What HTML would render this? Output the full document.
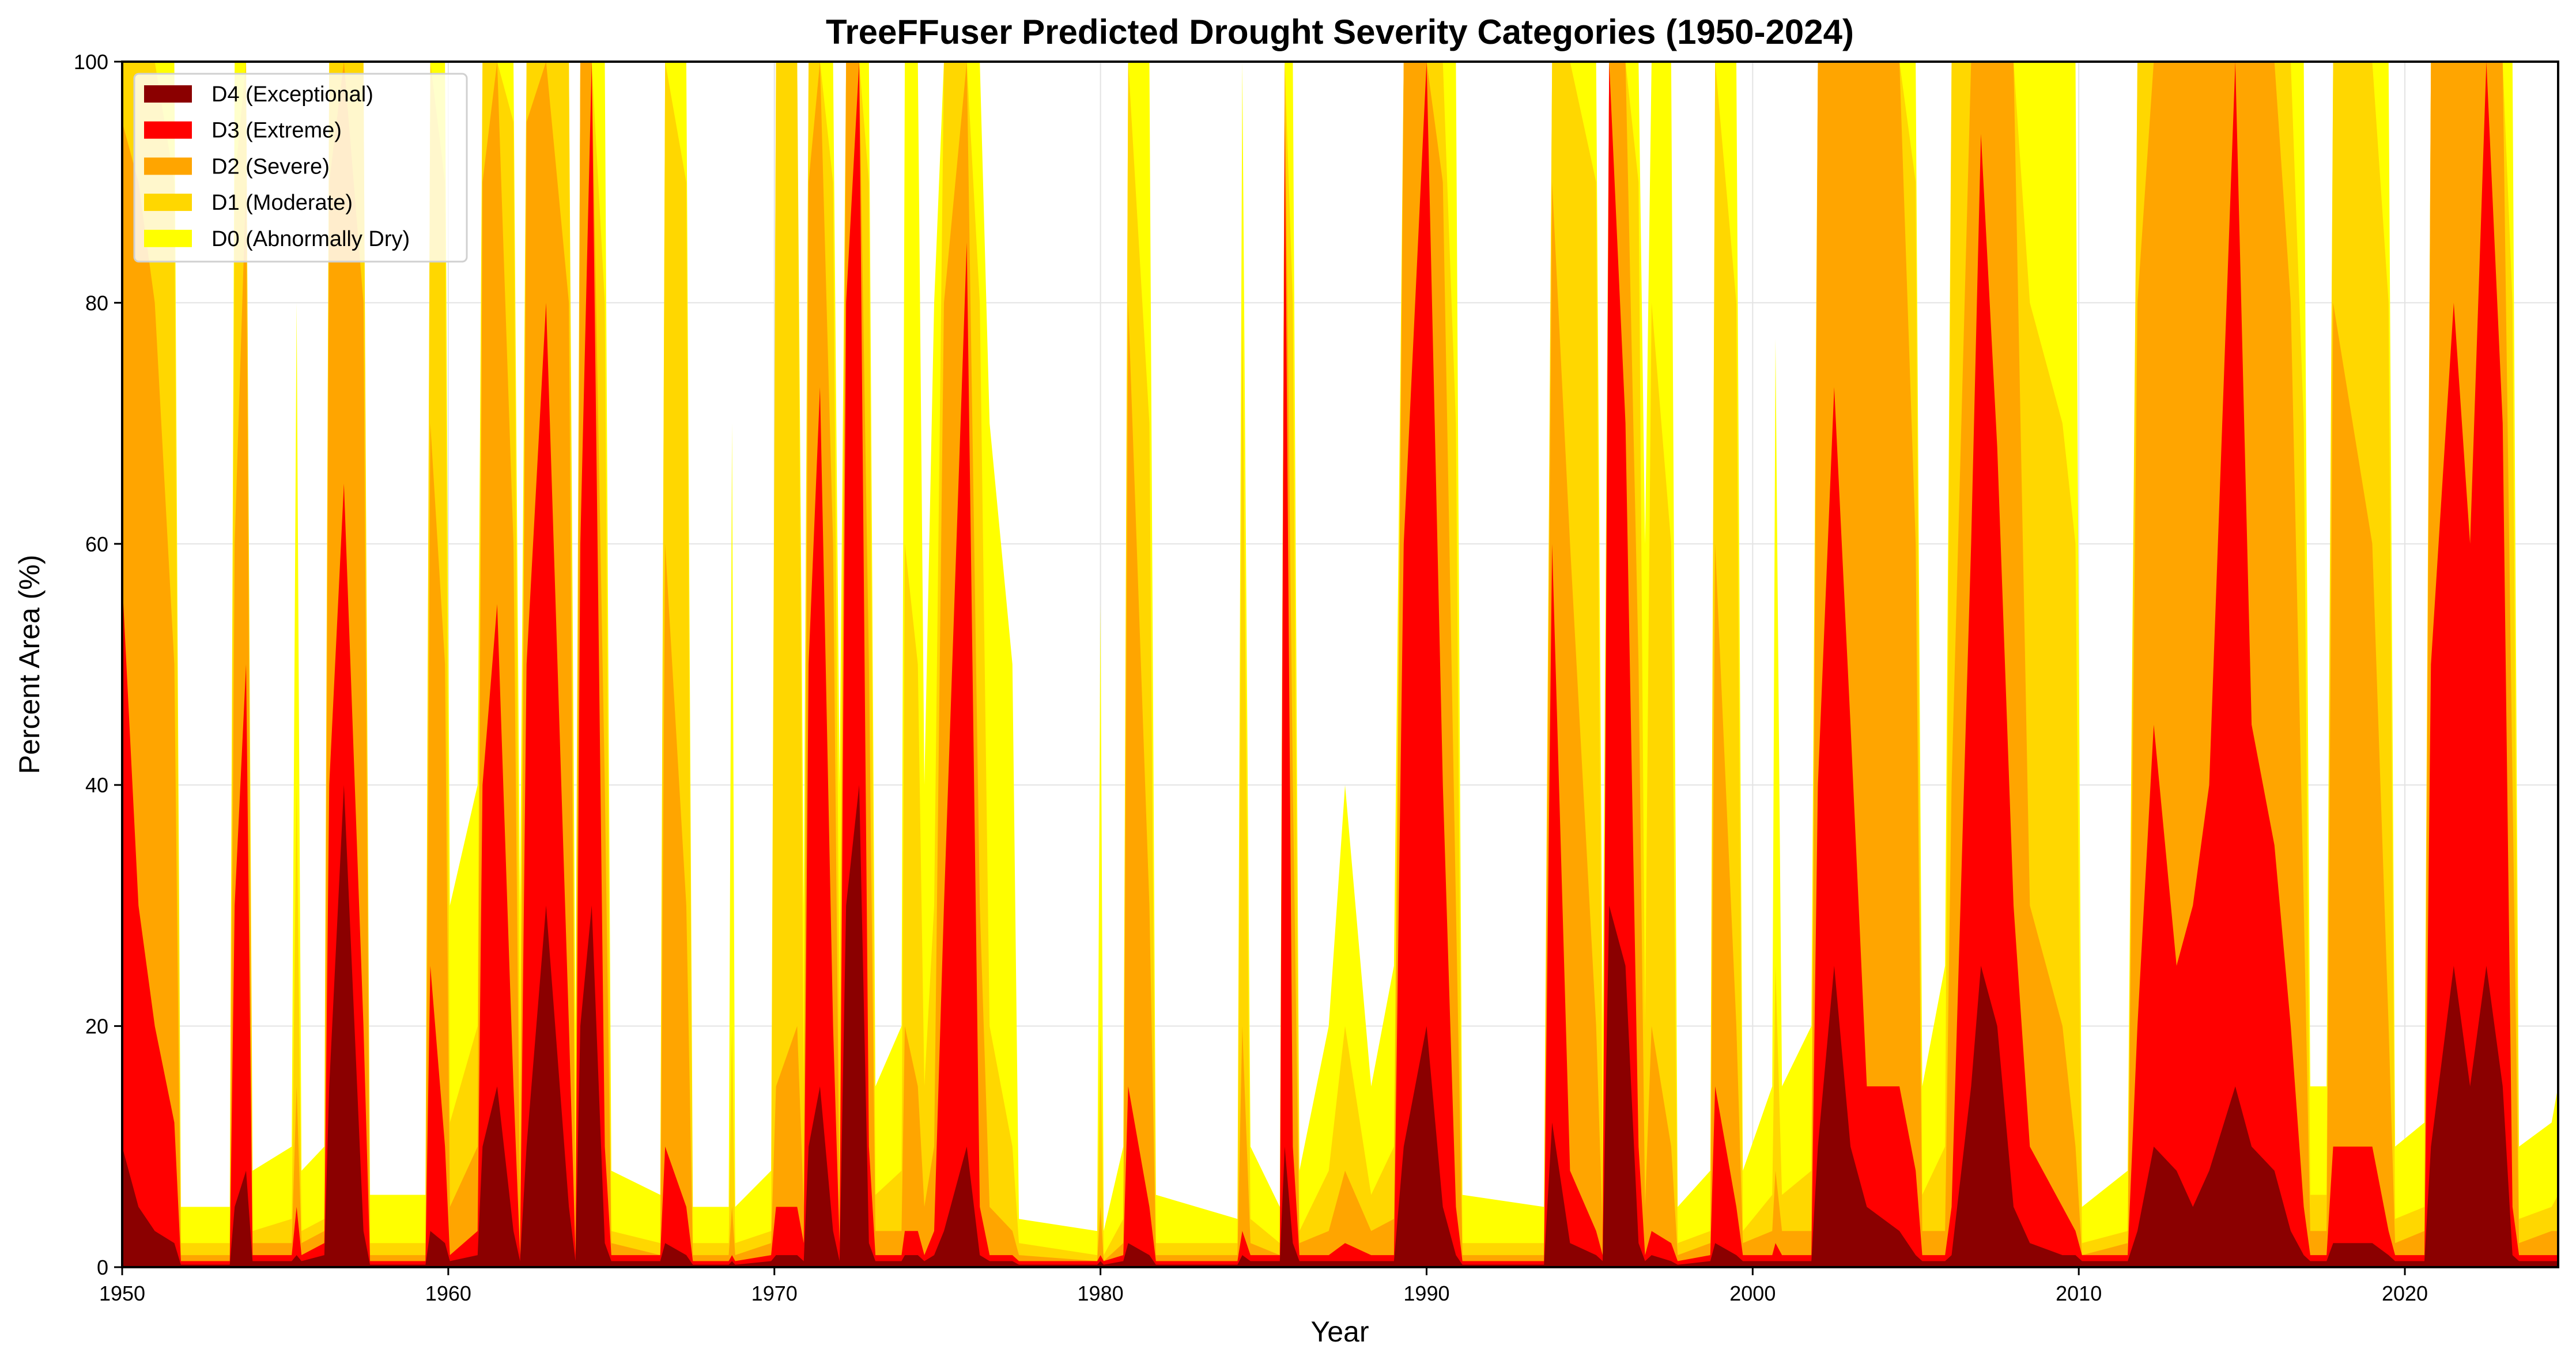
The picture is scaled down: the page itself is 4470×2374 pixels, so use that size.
<!DOCTYPE html>
<html><head><meta charset="utf-8">
<style>
html,body{margin:0;padding:0;background:#fff;}
svg{display:block;font-family:"Liberation Sans","DejaVu Sans",sans-serif;}
</style></head>
<body>
<svg id="chart" width="4470" height="2374" viewBox="0 0 4470 2374" xmlns="http://www.w3.org/2000/svg">
<rect width="4470" height="2374" fill="#fff"/>
<text x="2325" y="76" text-anchor="middle" font-size="60" font-weight="bold">TreeFFuser Predicted Drought Severity Categories (1950-2024)</text>
<g id="grid"></g>
<g id="areas"></g>
<g id="axes"></g>
<text x="2325" y="2328" text-anchor="middle" font-size="50">Year</text>
<text transform="translate(68,1153) rotate(-90)" text-anchor="middle" font-size="50">Percent Area (%)</text>
<g id="legend"></g>
</svg>
<script>
const years=[1950.0,1950.5,1951.0,1951.6,1951.8,1953.3,1953.45,1953.8,1954.0,1955.2,1955.35,1955.5,1956.2,1956.35,1956.8,1957.4,1957.6,1959.3,1959.45,1959.9,1960.05,1960.9,1961.05,1961.5,1962.0,1962.2,1962.4,1963.0,1963.7,1963.9,1964.05,1964.4,1964.8,1965.0,1966.5,1966.65,1967.3,1967.5,1968.6,1968.7,1968.8,1969.9,1970.05,1970.7,1970.9,1971.05,1971.4,1971.8,1972.0,1972.2,1972.6,1972.9,1973.1,1973.9,1974.0,1974.4,1974.6,1974.9,1975.2,1975.9,1976.3,1976.6,1977.3,1977.5,1979.9,1980.0,1980.1,1980.7,1980.85,1981.5,1981.7,1984.2,1984.35,1984.6,1985.5,1985.65,1985.9,1986.1,1987.0,1987.5,1988.3,1989.0,1989.3,1990.0,1990.5,1990.9,1991.1,1993.6,1993.85,1994.4,1995.2,1995.4,1995.6,1996.1,1996.5,1996.7,1996.9,1997.5,1997.7,1998.7,1998.85,1999.5,1999.7,2000.6,2000.7,2000.9,2001.8,2002.0,2002.5,2003.0,2003.5,2004.5,2005.0,2005.2,2005.9,2006.1,2006.7,2007.0,2007.5,2008.0,2008.5,2009.5,2009.9,2010.1,2011.5,2011.8,2012.3,2013.0,2013.5,2014.0,2014.8,2015.3,2016.0,2016.5,2016.9,2017.1,2017.6,2017.8,2019.0,2019.5,2019.7,2020.6,2020.8,2021.5,2022.0,2022.5,2023.0,2023.3,2023.5,2024.5,2024.7];
const d0=[100,100,100,100,5,5,100,100,8,10,80,8,10,100,100,100,6,6,100,100,30,40,100,100,100,30,100,100,100,20,100,100,100,8,6,100,100,5,5,70,5,8,100,100,30,100,100,100,40,100,100,100,15,20,100,100,40,80,100,100,100,70,50,4,3,55,3,10,100,100,6,4,100,10,5,100,100,8,20,40,15,25,100,100,100,100,6,5,100,100,100,20,100,100,100,60,100,100,5,8,100,100,8,15,77,15,20,100,100,100,100,100,100,15,25,100,100,100,100,100,100,100,100,5,8,100,100,100,100,100,100,100,100,100,100,15,15,100,100,100,10,12,100,100,100,100,100,100,10,12,15];
const d1=[100,100,100,90,2,2,90,100,3,4,40,3,4,100,100,100,2,2,100,90,12,20,100,100,95,15,100,100,100,8,100,100,80,3,2,100,90,2,2,20,2,3,100,100,15,100,100,90,20,100,100,90,6,8,60,50,15,30,100,100,80,20,10,2,1,20,1,4,100,70,2,2,80,4,2,100,80,3,8,20,6,10,100,100,100,70,2,2,100,100,90,8,100,100,90,20,80,60,2,3,100,80,3,6,25,6,8,100,100,100,100,100,90,6,10,100,100,100,100,100,80,70,60,2,3,100,100,100,100,100,100,100,100,100,70,6,6,100,100,80,4,5,100,100,100,100,100,80,4,5,6];
const d2=[95,90,80,50,1,1,60,90,2,2,15,2,3,90,100,80,1,1,70,50,5,10,90,100,60,5,95,100,80,3,100,100,40,2,1,60,30,1,1,5,1,2,15,20,5,90,100,60,5,100,100,50,3,3,20,15,5,10,80,100,30,5,3,1,0.5,5,0.5,2,80,30,1,1,20,2,1,100,40,2,3,8,3,4,100,100,90,30,1,1,90,60,20,3,100,100,50,5,20,10,1,2,60,20,2,3,8,3,3,100,100,100,100,100,60,3,3,40,100,100,100,100,30,20,10,1,2,80,100,100,100,100,100,100,100,80,30,3,3,80,60,20,2,3,100,100,100,100,100,40,2,3,3];
const d3=[57,30,20,12,0.5,0.5,30,50,1,1,5,1,2,40,65,20,0.5,0.5,25,10,1,3,40,55,15,1,50,80,20,1,60,100,10,1,1,10,5,0.5,0.5,1,0.5,1,5,5,2,50,73,20,2,80,100,10,1,1,3,3,1,3,30,85,5,1,1,0.5,0.5,1,0.5,1,15,5,0.5,0.5,3,1,1,95,10,1,1,2,1,1,60,100,40,5,0.5,0.5,60,8,3,1,100,70,10,1,3,2,0.5,1,15,5,1,1,2,1,1,40,73,45,15,15,8,1,1,5,60,94,68,30,10,5,3,1,1,20,45,25,30,40,100,45,35,20,5,1,1,10,10,3,1,1,50,80,60,100,70,5,1,1,1];
const d4=[10,5,3,2,0.2,0.2,5,8,0.5,0.5,1,0.5,1,15,40,3,0.2,0.2,3,2,0.5,1,10,15,3,0.5,10,30,5,0.5,20,30,2,0.5,0.5,2,1,0.2,0.2,0.5,0.2,0.5,1,1,0.5,10,15,3,0.5,30,40,2,0.5,0.5,1,1,0.5,1,3,10,1,0.5,0.5,0.2,0.2,0.5,0.2,0.5,2,1,0.2,0.2,1,0.5,0.5,10,2,0.5,0.5,0.5,0.5,0.5,10,20,5,1,0.2,0.2,12,2,1,0.5,30,25,2,0.5,1,0.5,0.2,0.5,2,1,0.5,0.5,0.5,0.5,0.5,10,25,10,5,3,1,0.5,0.5,1,15,25,20,5,2,1,1,0.5,0.5,3,10,8,5,8,15,10,8,3,1,0.5,0.5,2,2,1,0.5,0.5,10,25,15,25,15,1,0.5,0.5,0.5];
const xTicks=[1950,1960,1970,1980,1990,2000,2010,2020];
const yTicks=[0,20,40,60,80,100];
const seriesNames=["D0 (Abnormally Dry)","D1 (Moderate)","D2 (Severe)","D3 (Extreme)","D4 (Exceptional)"];
const seriesColors=["#FFFF00","#FFD700","#FFA500","#FF0000","#8B0000"];
const series=[d0,d1,d2,d3,d4];

const NS="http://www.w3.org/2000/svg";
const X0=212,X1=4439,Y0=2199,Y1=107,xmin=1950,xmax=2024.7;
function sx(v){return X0+(v-xmin)/(xmax-xmin)*(X1-X0);}
function sy(v){return Y0-v/100*(Y0-Y1);}
function mk(tag,attrs,parent){const e=document.createElementNS(NS,tag);for(const k in attrs)e.setAttribute(k,attrs[k]);parent.appendChild(e);return e;}
const grid=document.getElementById('grid'),areas=document.getElementById('areas'),axes=document.getElementById('axes'),legend=document.getElementById('legend');
xTicks.forEach(t=>{const l=mk('line',{x1:sx(t),x2:sx(t),y1:Y1,y2:Y0,stroke:'#e3e3e3','stroke-width':2},grid);

});
yTicks.forEach(t=>{const l=mk('line',{x1:X0,x2:X1,y1:sy(t),y2:sy(t),stroke:'#e3e3e3','stroke-width':2},grid);

});
series.forEach((s,i)=>{let d='M'+sx(years[0])+','+sy(0);
for(let j=0;j<years.length;j++)d+=' L'+sx(years[j]).toFixed(1)+','+sy(s[j]).toFixed(1);
d+=' L'+sx(years[years.length-1])+','+sy(0)+' Z';
const p=mk('path',{d:d,fill:seriesColors[i]},areas);

});
const fr=mk('rect',{x:X0,y:Y1,width:X1-X0,height:Y0-Y1,fill:'none',stroke:'#000','stroke-width':4},axes);


xTicks.forEach(t=>{const l=mk('line',{x1:sx(t),x2:sx(t),y1:Y0,y2:Y0+14,stroke:'#000','stroke-width':3},axes);


const tx=mk('text',{x:sx(t),y:Y0+58,'text-anchor':'middle','font-size':36},axes);tx.textContent=t;

});
yTicks.forEach(t=>{const l=mk('line',{x1:X0-14,x2:X0,y1:sy(t),y2:sy(t),stroke:'#000','stroke-width':3},axes);


const tx=mk('text',{x:X0-24,y:sy(t)+13,'text-anchor':'end','font-size':36},axes);tx.textContent=t;

});
const lb=mk('rect',{x:233,y:128,width:577,height:326,rx:8,fill:'#fff','fill-opacity':0.8,stroke:'#d0d0d0','stroke-width':3},legend);


for(let k=0;k<5;k++){const i=4-k;const cy=163+k*62.7;
const r=mk('rect',{x:250,y:cy-15,width:83,height:30,fill:seriesColors[i]},legend);


const tx=mk('text',{x:367,y:cy+13,'font-size':38},legend);tx.textContent=seriesNames[i];

}
</script>
</body></html>
